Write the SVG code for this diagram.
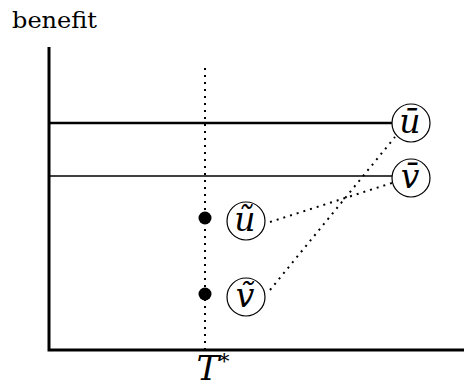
<svg xmlns="http://www.w3.org/2000/svg" width="464" height="387" viewBox="0 0 464 387">
<style>
.axis{stroke:#000;stroke-width:3;fill:none}
.dot{stroke:#000;stroke-width:2;stroke-dasharray:2 5;fill:none}
.node{fill:#fff;stroke:#000;stroke-width:1.2}
text{font-family:"DejaVu Serif","Liberation Serif",serif}
.m{font-style:italic;font-size:33px;text-anchor:middle}
.lbl{font-size:23px}
</style>
<text class="lbl" x="12" y="28" textLength="85" lengthAdjust="spacingAndGlyphs">benefit</text>
<g id="axes">
<path class="axis" d="M49,47 V350 H464"/>
</g>
<g id="connectors">
<line class="dot" x1="205" y1="68" x2="205" y2="349"/>
<line x1="49" y1="123" x2="392" y2="123" stroke="#000" stroke-width="2.6"/>
<line x1="49" y1="176" x2="392" y2="176" stroke="#000" stroke-width="1.7"/>
<line class="dot" x1="270" y1="222" x2="392" y2="183"/>
<line class="dot" x1="270" y1="290" x2="395" y2="137"/>
</g>
<g id="point-u"><circle cx="205" cy="218" r="6.5" fill="#000"/></g>
<g id="point-v"><circle cx="205" cy="294" r="6.5" fill="#000"/></g>
<g id="node-ubar">
<circle class="node" cx="411" cy="123" r="19"/>
<text class="m" x="410" y="133">&#x016B;</text>
</g>
<g id="node-vbar">
<circle class="node" cx="411" cy="178" r="19"/>
<text class="m" x="410" y="188">v&#x0304;</text>
</g>
<g id="node-utilde">
<circle class="node" cx="246" cy="221" r="19"/>
<text class="m" x="245" y="231">&#x0169;</text>
</g>
<g id="node-vtilde">
<circle class="node" cx="246" cy="297" r="19"/>
<text class="m" x="245" y="307">&#x1E7D;</text>
</g>
<text class="m" x="213" y="380" style="font-size:34px">T<tspan dy="-12" style="font-size:21px;font-style:normal">*</tspan></text>
</svg>
